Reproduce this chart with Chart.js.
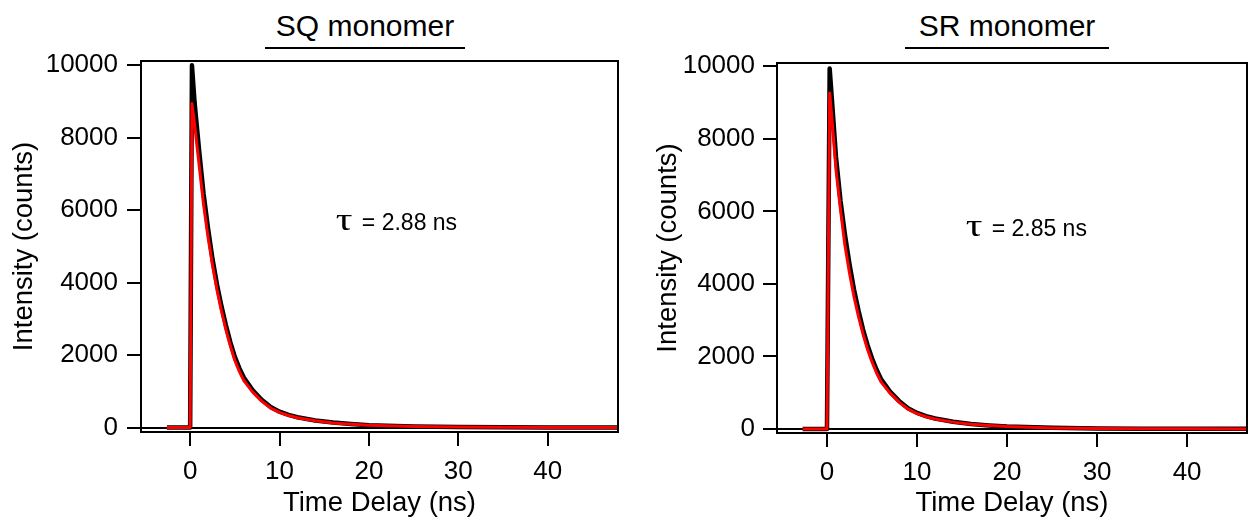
<!DOCTYPE html>
<html>
<head>
<meta charset="utf-8">
<script src="https://cdn.jsdelivr.net/npm/chart.js@4/dist/chart.umd.min.js"></script>
<style>
  html, body { margin: 0; padding: 0; background: #fff; }
  body { width: 1248px; height: 520px; position: relative; overflow: hidden; font-family: "Liberation Sans", Arial, sans-serif; }
  .panel { position: absolute; top: 0; height: 520px; }
  .ttl { position: absolute; top: 8px; font-size: 30px; line-height: 36px; text-align: center;
         border-bottom: 2px solid #000; padding-bottom: 3px; color: #000; }
</style>
</head>
<body>
<div class="ttl" style="left:265px;width:200px;">SQ monomer</div>
<div class="ttl" style="left:905px;width:204px;">SR monomer</div>
<div class="panel" style="left:0;width:640px;"><canvas id="chSQ" width="640" height="520"></canvas></div>
<div class="panel" style="left:640px;width:608px;"><canvas id="chSR" width="608" height="520"></canvas></div>

<script>
// ── data ───────────────────────────────────────────────────────────────────
const xTicks = [0, 10, 20, 30, 40];
const yTicks = [0, 2000, 4000, 6000, 8000, 10000];

// SQ monomer
const timeSQ   = [-2.6, 0, 0.2, 0.5, 1, 1.5, 2, 2.5, 3, 3.5, 4, 4.5, 5, 5.5, 6, 7, 8, 9, 10, 11, 12, 14, 16, 18, 20, 25, 30, 35, 40, 47.8];
const countsSQ = [0, 0, 9990, 8950, 7650, 6450, 5500, 4650, 3950, 3350, 2820, 2350, 1950, 1640, 1380, 1030, 770, 570, 440, 350, 285, 195, 138, 98, 68, 32, 16, 9, 6, 4];
const fitSQ    = [0, 0, 8935, 8350, 7250, 6150, 5250, 4480, 3800, 3220, 2700, 2250, 1850, 1550, 1300, 980, 730, 540, 420, 335, 270, 190, 130, 95, 65, 30, 14, 8, 5, 3];

// SR monomer
const timeSR   = [-2.7, 0, 0.3, 0.6, 1, 1.5, 2, 2.5, 3, 3.5, 4, 4.5, 5, 5.5, 6, 7, 8, 9, 10, 11, 12, 14, 16, 18, 20, 25, 30, 35, 40, 47];
const countsSR = [0, 0, 9937, 8900, 7500, 6300, 5350, 4550, 3850, 3270, 2750, 2320, 1950, 1640, 1380, 1030, 775, 575, 445, 355, 290, 198, 140, 100, 70, 33, 16, 9, 6, 4];
const fitSR    = [0, 0, 9265, 8400, 7150, 6050, 5050, 4300, 3650, 3100, 2620, 2200, 1850, 1550, 1300, 990, 740, 550, 425, 340, 275, 190, 132, 95, 66, 30, 14, 8, 5, 3];

const tauText = ['2.88', '2.85'];

const FONT = '"Liberation Sans", Arial, sans-serif';

function pts(xs, ys) {
  return xs.map(function(x, i) { return { x: x, y: ys[i] }; });
}

// box frame (top + right) and the tau note
const framePlugin = {
  id: 'frame',
  afterDraw(chart, args, opts) {
    const ctx = chart.ctx, a = chart.chartArea;
    ctx.save();
    ctx.strokeStyle = '#000';
    ctx.lineWidth = 2;
    ctx.beginPath();
    ctx.moveTo(a.left - 1, a.top);
    ctx.lineTo(a.right, a.top);
    ctx.lineTo(a.right, a.bottom + 1);
    ctx.stroke();

    const x = chart.scales.x.getPixelForValue(opts.tx);
    const y = chart.scales.y.getPixelForValue(opts.ty);
    ctx.fillStyle = '#000';
    ctx.textAlign = 'left';
    ctx.textBaseline = 'alphabetic';
    // wide tau, like the Symbol-font glyph of the original
    ctx.save();
    ctx.translate(x, y);
    ctx.scale(1.3, 1);
    ctx.font = '32px "Liberation Serif", serif';
    ctx.fillText('\u03C4', 0, 0);
    ctx.restore();
    ctx.font = '23px ' + FONT;
    ctx.fillText('= ' + opts.tau + ' ns', x + 26, y);
    ctx.restore();
  }
};

function makeChart(id, times, counts, fit, o) {
  return new Chart(document.getElementById(id), {
    type: 'line',
    data: {
      datasets: [
        { data: pts(times, fit),    borderColor: '#ff0000', borderWidth: 3, pointRadius: 0, tension: 0, borderJoinStyle: 'round' },
        { data: pts(times, counts), borderColor: '#000000', borderWidth: 4.5, pointRadius: 0, tension: 0, borderJoinStyle: 'round' }
      ]
    },
    options: {
      responsive: false,
      animation: false,
      events: [],
      layout: { padding: { top: o.padTop, right: o.padRight, bottom: 0, left: 0 } },
      plugins: {
        legend: { display: false },
        tooltip: { enabled: false },
        frame: { tx: o.tx, ty: o.ty, tau: o.tau }
      },
      scales: {
        x: {
          type: 'linear',
          min: o.xMin, max: o.xMax,
          afterFit: function(s) { s.height = o.xAxisH; },
          afterBuildTicks: function(s) { s.ticks = xTicks.map(function(v) { return { value: v }; }); },
          border: { display: true, color: '#000', width: 2 },
          grid: { drawOnChartArea: false, drawTicks: true, tickLength: 14, tickColor: '#000', lineWidth: 2 },
          ticks: { color: '#000', padding: 10, font: { family: FONT, size: 26 }, maxRotation: 0,
                   callback: function(v) { return String(v); } },
          title: { display: true, text: 'Time Delay (ns)', color: '#000',
                   font: { family: FONT, size: 27.5 }, padding: { top: 0, bottom: 0 } }
        },
        y: {
          type: 'linear',
          min: o.yMin, max: o.yMax,
          afterFit: function(s) { s.width = o.yAxisW; },
          afterBuildTicks: function(s) { s.ticks = yTicks.map(function(v) { return { value: v }; }); },
          border: { display: true, color: '#000', width: 2 },
          grid: {
            drawOnChartArea: true, drawTicks: true, tickLength: 14, tickColor: '#000', lineWidth: 2,
            color: function(c) { return c.tick && c.tick.value === 0 ? '#000' : 'rgba(0,0,0,0)'; }
          },
          ticks: { color: '#000', padding: o.yPad, font: { family: FONT, size: 26 },
                   callback: function(v) { return String(v); } },
          title: { display: true, text: 'Intensity (counts)', color: '#000',
                   font: { family: FONT, size: 27.5 }, padding: { top: o.yTitlePad, bottom: 0 } }
        }
      }
    },
    plugins: [framePlugin]
  });
}

makeChart('chSQ', timeSQ, countsSQ, fitSQ, {
  xMin: -5.5, xMax: 47.87, yMin: -121, yMax: 10110,
  padTop: 61, padRight: 22, xAxisH: 88, yAxisW: 141, yPad: 9, yTitlePad: 8,
  tx: 16.3, ty: 5460, tau: tauText[0]
});

makeChart('chSR', timeSR, countsSR, fitSR, {
  xMin: -5.55, xMax: 46.65, yMin: -110, yMax: 10091,
  padTop: 63, padRight: 1, xAxisH: 87, yAxisW: 137, yPad: 8, yTitlePad: 12,
  tx: 15.4, ty: 5320, tau: tauText[1]
});
</script>
</body>
</html>
